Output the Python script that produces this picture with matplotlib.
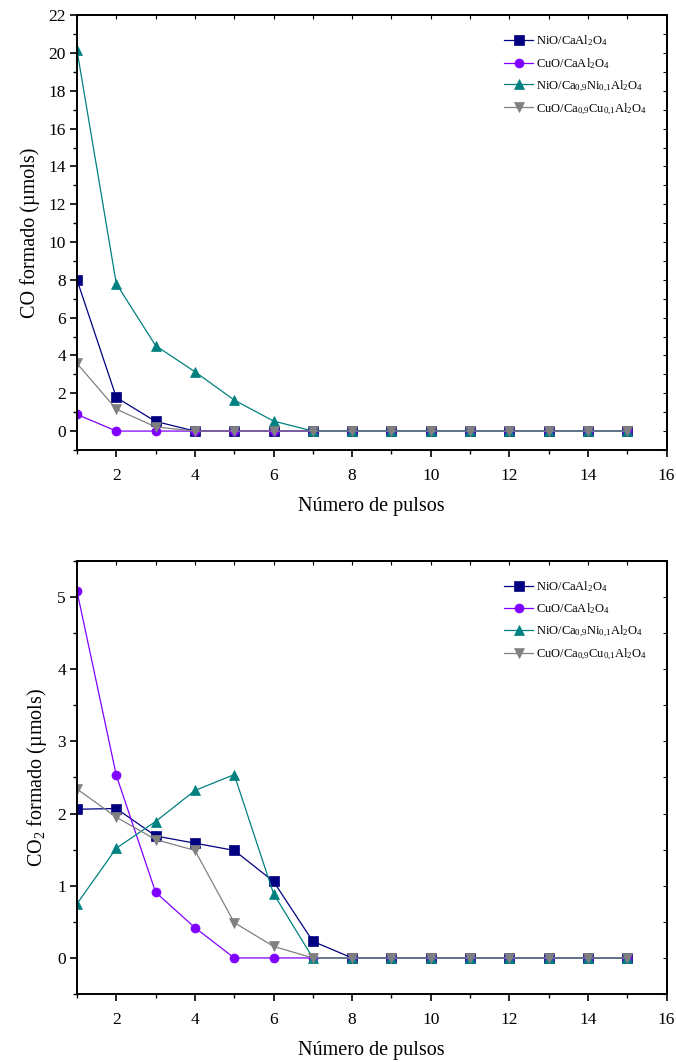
import matplotlib
matplotlib.use("Agg")
import matplotlib.pyplot as plt
from matplotlib.ticker import MultipleLocator

plt.rcParams["font.family"] = ["Liberation Serif", "DejaVu Serif"]
plt.rcParams["mathtext.fontset"] = "custom"
plt.rcParams["mathtext.rm"] = "Liberation Serif"
plt.rcParams["mathtext.it"] = "Liberation Serif:italic"
plt.rcParams["mathtext.bf"] = "Liberation Serif:bold"

# Pulse number
pulses = list(range(1, 16))

# Series labels
labels = [
    r"NiO/CaAl$_2$O$_4$",
    r"CuO/CaAl$_2$O$_4$",
    r"NiO/Ca$_{0{,}9}$Ni$_{0{,}1}$Al$_2$O$_4$",
    r"CuO/Ca$_{0{,}9}$Cu$_{0{,}1}$Al$_2$O$_4$",
]

# CO formed (µmols)
co_nio_caal = [8.0, 1.78, 0.51, 0, 0, 0, 0, 0, 0, 0, 0, 0, 0, 0, 0]
co_cuo_caal = [0.88, 0, 0, 0, 0, 0, 0, 0, 0, 0, 0, 0, 0, 0, 0]
co_nio_cani = [20.15, 7.8, 4.52, 3.14, 1.64, 0.53, 0, 0, 0, 0, 0, 0, 0, 0, 0]
co_cuo_cacu = [3.58, 1.16, 0.22, 0, 0, 0, 0, 0, 0, 0, 0, 0, 0, 0, 0]

# CO2 formed (µmols)
co2_nio_caal = [2.06, 2.07, 1.69, 1.59, 1.49, 1.06, 0.23, 0, 0, 0, 0, 0, 0, 0, 0]
co2_cuo_caal = [5.08, 2.53, 0.91, 0.42, 0, 0, 0, 0, 0, 0, 0, 0, 0, 0, 0]
co2_nio_cani = [0.75, 1.52, 1.89, 2.32, 2.54, 0.89, 0, 0, 0, 0, 0, 0, 0, 0, 0]
co2_cuo_cacu = [2.34, 1.95, 1.64, 1.49, 0.49, 0.16, 0, 0, 0, 0, 0, 0, 0, 0, 0]

colors = ["#000080", "#8000FF", "#008080", "#808080"]
markers = ["s", "o", "^", "v"]

fig = plt.figure(figsize=(6.76, 10.62), dpi=100)
ax1 = fig.add_axes([0.1139, 0.5763, 0.8722, 0.4093])
ax2 = fig.add_axes([0.1139, 0.0640, 0.8722, 0.4078])


def draw(ax, series, ylim, ymaj, ymin, ylabel, legend_anchor, ylabelpad):
    for vals, c, m, lab in zip(series, colors, markers, labels):
        ax.plot(pulses, vals, color=c, marker=m, markersize=6.5, lw=0.9,
                markeredgewidth=0.5, label=lab)
    ax.set_xlim(1, 16)
    ax.set_ylim(*ylim)
    ax.xaxis.set_major_locator(MultipleLocator(2))
    ax.xaxis.set_minor_locator(MultipleLocator(1))
    ax.yaxis.set_major_locator(MultipleLocator(ymaj))
    ax.yaxis.set_minor_locator(MultipleLocator(ymin))
    ax.tick_params(which="major", direction="out", length=5, width=1.2,
                   labelsize=12.5, pad=3)
    ax.tick_params(which="minor", direction="out", length=3, width=1.0)
    ax.tick_params(axis="x", pad=8)
    for sp in ax.spines.values():
        sp.set_linewidth(1.4)
    # inward ticks on the top and right frame edges
    top = ax.secondary_xaxis("top")
    top.xaxis.set_major_locator(MultipleLocator(1))
    top.tick_params(direction="in", length=3, width=0.8, labeltop=False)
    right = ax.secondary_yaxis("right")
    right.yaxis.set_major_locator(MultipleLocator(ymin))
    right.tick_params(direction="in", length=3, width=0.8, labelright=False)
    for sp in list(top.spines.values()) + list(right.spines.values()):
        sp.set_linewidth(1.4)
    ax.set_xlabel("Número de pulsos", fontsize=14.5, labelpad=9)
    ax.set_ylabel(ylabel, fontsize=14.5, labelpad=ylabelpad)
    ax.legend(loc="upper left", bbox_to_anchor=legend_anchor, frameon=False,
              fontsize=9, handlelength=2.3, handletextpad=0.25,
              labelspacing=0.62, borderpad=0, borderaxespad=0)


draw(ax1, [co_nio_caal, co_cuo_caal, co_nio_cani, co_cuo_cacu],
     (-1, 22), 2, 1, "CO formado (µmols)", (0.725, 0.958), 6)
draw(ax2, [co2_nio_caal, co2_cuo_caal, co2_nio_cani, co2_cuo_cacu],
     (-0.5, 5.5), 1, 0.5, r"CO$_2$ formado (µmols)", (0.725, 0.958), 6)

fig.savefig("out.png", dpi=100)
